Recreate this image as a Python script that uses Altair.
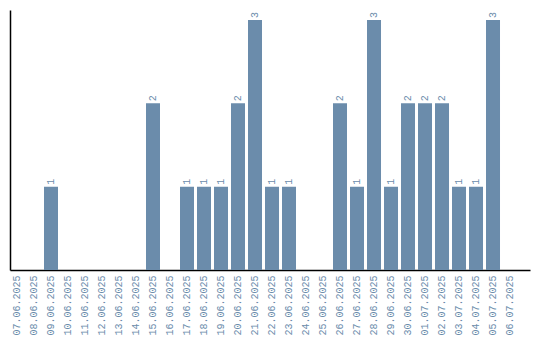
import altair as alt
import pandas as pd

dates = ["07.06.2025", "08.06.2025", "09.06.2025", "10.06.2025", "11.06.2025",
         "12.06.2025", "13.06.2025", "14.06.2025", "15.06.2025", "16.06.2025",
         "17.06.2025", "18.06.2025", "19.06.2025", "20.06.2025", "21.06.2025",
         "22.06.2025", "23.06.2025", "24.06.2025", "25.06.2025", "26.06.2025",
         "27.06.2025", "28.06.2025", "29.06.2025", "30.06.2025", "01.07.2025",
         "02.07.2025", "03.07.2025", "04.07.2025", "05.07.2025", "06.07.2025"]
counts = [0, 0, 1, 0, 0, 0, 0, 0, 2, 0,
          1, 1, 1, 2, 3, 1, 1, 0, 0, 2,
          1, 3, 1, 2, 2, 2, 1, 1, 3, 0]

df = pd.DataFrame({"date": dates, "count": counts})
color = "#6b8cab"
font = "Liberation Mono"

x = alt.X("date:N", sort=dates,
          scale=alt.Scale(paddingInner=3/17, paddingOuter=0.382, align=0),
          axis=alt.Axis(title=None, labelAngle=270, labelAlign="right", labelBaseline="middle",
                        labelColor=color, labelFont=font, labelFontSize=10, labelPadding=5,
                        ticks=False, domainColor="black", domainWidth=1.5, domainOpacity=1))
y = alt.Y("count:Q", scale=alt.Scale(domain=[0, 3.12], nice=False),
          axis=alt.Axis(title=None, labels=False, ticks=False, grid=False,
                        domainColor="black", domainWidth=1.5))

bars = alt.Chart(df).mark_bar(color=color).encode(x=x, y=y)
labels = alt.Chart(df).transform_filter("datum.count > 0").mark_text(
    angle=270, align="left", baseline="middle", dx=2, color=color,
    font=font, fontSize=10).encode(x=x, y=y, text="count:Q")

chart = (bars + labels).properties(
    width=520, height=260,
    background="white",
    autosize=alt.AutoSizeParams(type="none"),
    padding={"left": 10, "top": 10, "right": 10, "bottom": 70},
).configure_view(stroke=None, strokeWidth=0)

chart.save("out.html", embed_options={"renderer": "svg", "actions": False})
